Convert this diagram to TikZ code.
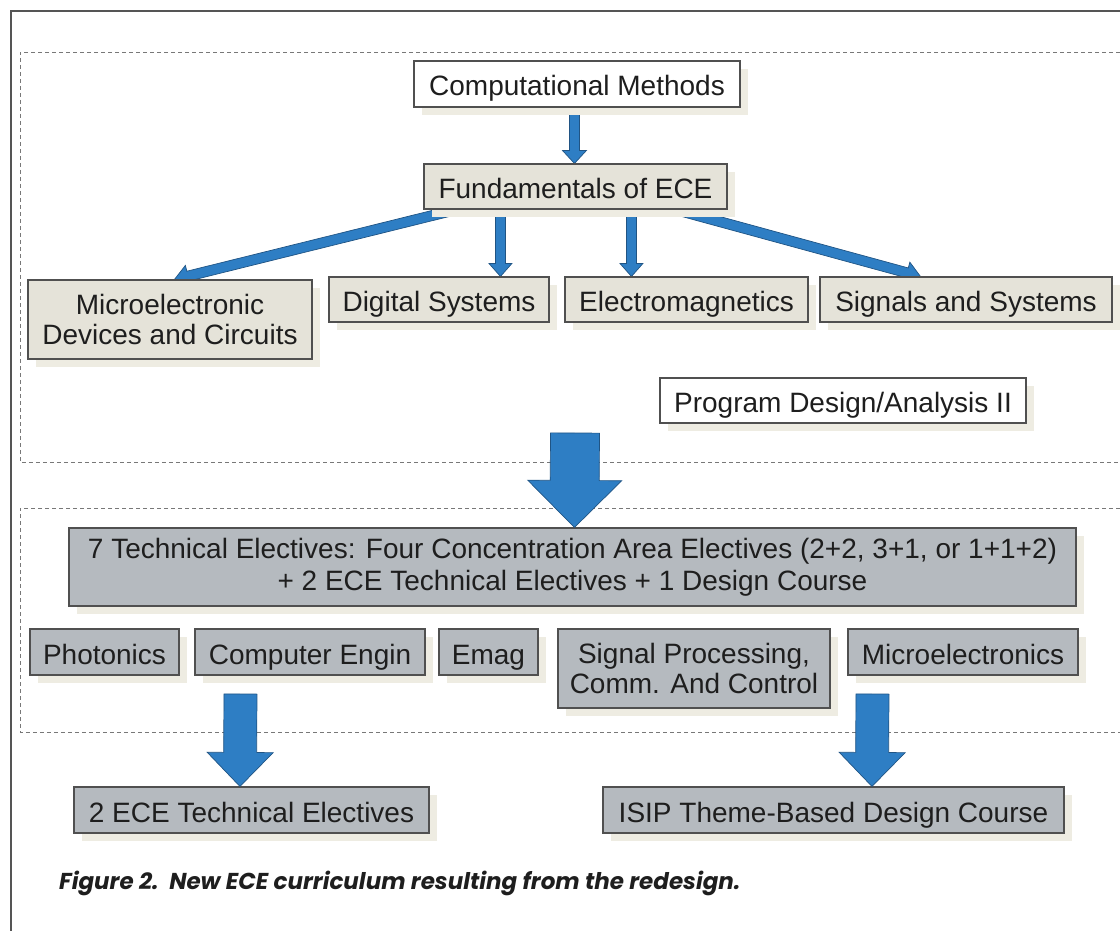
\documentclass[tikz,border=0pt]{standalone}
\usepackage{fontspec}
\setmainfont{Liberation Sans}
\newfontfamily\capfont{Poppins}
\usetikzlibrary{calc,shadows}
\pgfdeclarelayer{background}
\pgfsetlayers{background,main}
\definecolor{beige}{RGB}{229,227,217}
\definecolor{grayb}{RGB}{181,186,191}
\definecolor{shadowc}{RGB}{238,236,226}
\definecolor{boxline}{RGB}{80,80,80}
\definecolor{textc}{RGB}{30,30,30}
\definecolor{arrfill}{RGB}{46,126,196}
\definecolor{arrline}{RGB}{32,84,132}
\definecolor{dashc}{RGB}{120,120,120}
\definecolor{framec}{RGB}{85,85,85}
\tikzset{
  box/.style={draw=boxline, line width=1.1pt, inner sep=0pt, align=center,
    font=\fontsize{28}{30}\selectfont, text=textc,
    drop shadow={shadow xshift=8pt, shadow yshift=-8pt, fill=shadowc, opacity=1}},
  oneline/.style={text height=24pt, text depth=0pt},
  whitebox/.style={box, fill=white},
  beigebox/.style={box, fill=beige},
  graybox/.style={box, fill=grayb},
  arrowsty/.style={fill=arrfill, draw=arrline, line width=0.7pt, line join=miter},
  dashline/.style={draw=dashc, line width=0.9pt, dash pattern=on 4pt off 3pt},
  framel/.style={draw=framec, line width=1.3pt},
  captionsty/.style={font=\capfont\bfseries\itshape\fontsize{23}{26}\selectfont, text=textc, anchor=base west, inner sep=0pt}
}
\newcommand\blockarr[5]{%
  \coordinate (bah) at ($(#2)!#5!(#1)$);
  \filldraw[arrowsty] ($(#1)!#3!90:(#2)$) -- ($(bah)!#3!-90:(#1)$) -- ($(bah)!#4!-90:(#1)$) -- (#2)
    -- ($(bah)!#4!90:(#1)$) -- ($(bah)!#3!90:(#1)$) -- ($(#1)!#3!-90:(#2)$) -- cycle;}
\begin{document}
\begin{tikzpicture}[x=1pt,y=-1pt]
\useasboundingbox (0,0) rectangle (1120,931);
% frame
\draw[framel] (11,931) -- (11,11) -- (1120,11);
% dashed regions
\draw[dashline] (1120,52) -- (20,52) -- (20,462) -- (1120,462);
\draw[dashline] (1120,508) -- (20,508) -- (20,732) -- (1120,732);
% nodes
\node[whitebox, oneline, minimum width=326pt, minimum height=46pt] (cm) at (577,84) {Computational Methods};
\node[beigebox, oneline, minimum width=303pt, minimum height=45pt] (fund) at (575.5,186.5) {Fundamentals of ECE};
\node[beigebox, minimum width=284pt, minimum height=79pt, font=\fontsize{28}{30}\selectfont] (micro) at (170,319.5) {Microelectronic\\Devices and Circuits};
\node[beigebox, oneline, minimum width=220pt, minimum height=45pt] (dig) at (439,299.5) {Digital Systems};
\node[beigebox, oneline, minimum width=243pt, minimum height=45pt] (elm) at (686.5,299.5) {Electromagnetics};
\node[beigebox, oneline, minimum width=292pt, minimum height=45pt] (sig) at (966,299.5) {Signals and Systems};
\node[whitebox, oneline, minimum width=366pt, minimum height=45pt] (pda) at (843,400.5) {Program Design/Analysis II};
\node[graybox, minimum width=1007pt, minimum height=78pt, font=\fontsize{28}{32}\selectfont] (te7) at (572.5,567) {7 Technical Electives: Four Concentration Area Electives (2+2, 3+1, or 1+1+2)\\+ 2 ECE Technical Electives + 1 Design Course};
\node[graybox, oneline, minimum width=149pt, minimum height=46pt] (phot) at (104.5,652) {Photonics};
\node[graybox, oneline, minimum width=230pt, minimum height=46pt] (ce) at (310,652) {Computer Engin};
\node[graybox, oneline, minimum width=99pt, minimum height=46pt] (em) at (488.5,652) {Emag};
\node[graybox, minimum width=272pt, minimum height=79pt, font=\fontsize{28}{30}\selectfont] (spc) at (694,668.5) {Signal Processing,\\Comm. And Control};
\node[graybox, oneline, minimum width=230pt, minimum height=46pt] (mic) at (963,652) {Microelectronics};
\node[graybox, oneline, minimum width=355pt, minimum height=46pt] (ece2) at (251.5,810) {2 ECE Technical Electives};
\node[graybox, oneline, minimum width=461pt, minimum height=46pt] (isip) at (833.5,810) {ISIP Theme-Based Design Course};
\node[captionsty] (cap) at (59,889) {Figure 2.\ \ New ECE curriculum resulting from the redesign.};
% arrows
\coordinate (bigs) at (575,433);
\coordinate (lbs) at (240.5,694);
\coordinate (rbs) at (872.5,694);
\path ($(cm.south west)+(161,0)$) coordinate (a0s) ($(fund.north west)+(151,0)$) coordinate (a0e)
      ($(fund.south west)+(33,0)$) coordinate (a1s) ($(micro.north west)+(147,0)$) coordinate (a1e)
      ($(fund.south west)+(77,0)$) coordinate (a2s) ($(dig.north west)+(172,0)$) coordinate (a2e)
      ($(fund.south west)+(208,0)$) coordinate (a3s) ($(elm.north west)+(67,0)$) coordinate (a3e)
      ($(fund.south west)+(252,0)$) coordinate (a4s) ($(sig.north west)+(101,0)$) coordinate (a4e)
      ($(te7.north west)+(506,0)$) coordinate (a5e)
      ($(ece2.north west)+(166.5,0)$) coordinate (a6e)
      ($(isip.north west)+(269.5,0)$) coordinate (a7e);
\begin{pgfonlayer}{background}
\blockarr{a0s}{a0e}{5pt}{12pt}{13pt}
\blockarr{a1s}{a1e}{5pt}{11pt}{14pt}
\blockarr{a2s}{a2e}{5pt}{11.5pt}{13pt}
\blockarr{a3s}{a3e}{5pt}{11.5pt}{13pt}
\blockarr{a4s}{a4e}{5pt}{11pt}{14pt}
\end{pgfonlayer}
\blockarr{bigs}{a5e}{24.5pt}{47pt}{47pt}
\blockarr{lbs}{a6e}{16.5pt}{33pt}{34pt}
\blockarr{rbs}{a7e}{16.5pt}{33pt}{34pt}
\end{tikzpicture}
\end{document}
